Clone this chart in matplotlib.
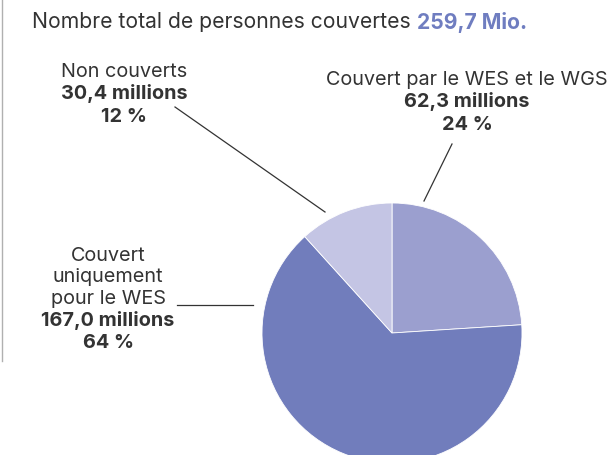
import matplotlib
matplotlib.use("Agg")
import matplotlib.pyplot as plt

plt.rcParams['font.family'] = ['Inter', 'DejaVu Sans']

# données
categories = ["Couvert par le WES et le WGS", "Couvert\nuniquement\npour le WES", "Non couverts"]
millions = [62.3, 167.0, 30.4]
percents = [24, 64, 12]
colors = ["#9b9fcf", "#717dbc", "#c4c5e4"]
total_label = "259,7 Mio."

W, H = 610, 456
fig = plt.figure(figsize=(W / 100, H / 100), dpi=100)
ax = fig.add_axes([0, 0, 1, 1])

# camembert, centre et rayon en pixels
cx, cy, r = 392, H - 334, 130
ax.pie(millions, colors=colors, startangle=90, counterclock=False,
       center=(cx, cy), radius=r,
       wedgeprops=dict(edgecolor="white", linewidth=0.6))
ax.set_xlim(0, W)
ax.set_ylim(0, H)
ax.set_aspect("equal")
ax.axis("off")

dark = "#333333"
fs = 14.3

# titre
t1 = ax.text(32, H - 22, "Nombre total de personnes couvertes ", fontsize=15.2,
             color=dark, va="center", ha="left")
fig.canvas.draw()
bb = t1.get_window_extent(fig.canvas.get_renderer())
ax.text(bb.x1, H - 22, total_label, fontsize=15.2, color="#6f7dc0",
        fontweight="bold", va="center", ha="left")

def fmt(v):
    return f"{v:.1f}".replace(".", ",") + " millions"

def label(x, y_top, name, v, p):
    lines = name.split("\n")
    y = y_top
    for ln in lines:
        ax.text(x, H - y, ln, fontsize=fs, color=dark, ha="center", va="center")
        y += 21.5
    ax.text(x, H - y, fmt(v), fontsize=fs, color=dark, ha="center",
            va="center", fontweight="bold")
    y += 23
    ax.text(x, H - y, f"{p} %", fontsize=fs, color=dark, ha="center",
            va="center", fontweight="bold")

label(467, 80, categories[0], millions[0], percents[0])
label(108, 256, categories[1], millions[1], percents[1])
label(124, 72, categories[2], millions[2], percents[2])

# lignes de rappel
ax.plot([452, 424], [H - 145, H - 202], color=dark, lw=0.9)
ax.plot([177, 253], [H - 306, H - 306], color=dark, lw=0.9)
ax.plot([175, 325], [H - 108, H - 213], color=dark, lw=0.9)

# trait vertical à gauche
ax.plot([2, 2], [H, H - 362], color="#b0b0b0", lw=1)

fig.savefig("out.png", dpi=100)
